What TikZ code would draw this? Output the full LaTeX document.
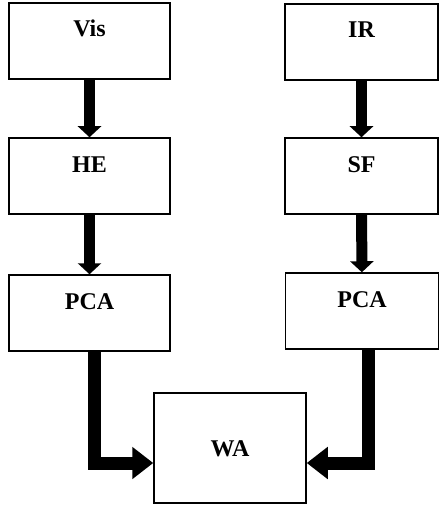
\documentclass[tikz,border=0pt]{standalone}
\usepackage{fontspec}
\setmainfont{Liberation Serif}
\usetikzlibrary{arrows.meta, positioning}

\begin{document}
\begin{tikzpicture}[x=1pt, y=-1pt,
		block/.style={draw, line width=1.5pt, inner sep=0pt, font=\bfseries\fontsize{24}{28}\selectfont, text height=34pt, text depth=42pt},
		flow/.style={line width=11pt, -{Triangle[width=23pt, length=11pt]}},
		merge/.style={line width=13pt, line join=miter, -{Triangle[width=31pt, length=21pt]}}]
		\useasboundingbox (0,0) rectangle (440,505);
		% left column
		\node [block, minimum width=161pt] (vis) at (89.5,41) {Vis};
		\node [block, minimum width=161pt] (he) at (89.5,176) {HE};
		\node [block, minimum width=161pt] (pcal) at (89.5,313) {PCA};
		% right column
		\node [block, minimum width=153pt] (ir) at (361.5,42) {IR};
		\node [block, minimum width=153pt] (sf) at (361.5,176) {SF};
		\node [block, minimum width=153pt] (pcar) at (362,311) {PCA};
		\node [block, minimum width=152pt, text height=63pt, text depth=47pt] (wa) at (230,448) {WA};
		\foreach \a/\b in {vis/he, he/pcal, ir/sf, sf/pcar}{
			\draw [flow] (\a) -- (\b);
		}
		\draw [merge] ([xshift=5pt]pcal.south) |- ([yshift=-15pt]wa.west);
		\draw [merge] ([xshift=6pt]pcar.south) |- ([yshift=-15pt]wa.east);
	\end{tikzpicture}
\end{document}
